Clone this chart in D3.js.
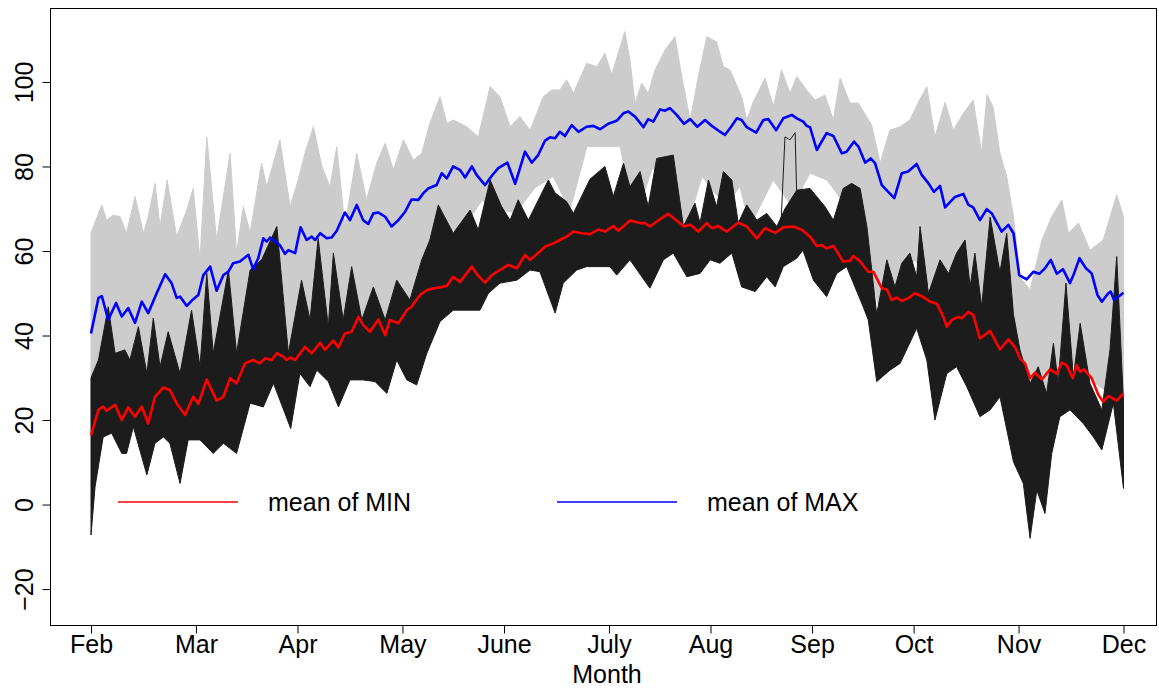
<!DOCTYPE html>
<html>
<head>
<meta charset="utf-8">
<script src="https://cdn.jsdelivr.net/npm/d3@7"></script>
<style>
  html, body { margin: 0; padding: 0; background: #fff; }
  svg { display: block; font-family: "Liberation Sans", Arial, sans-serif; }
</style>
</head>
<body>
<svg id="chart" width="1159" height="688"></svg>
<script>
// Daily temperatures (°F), day 0 = 1 Feb. Records are [day, value].
const months = ["Feb", "Mar", "Apr", "May", "June", "July", "Aug", "Sep", "Oct", "Nov", "Dec"];
const monthDays = [0, 31, 61, 92, 122, 153, 183, 213, 243, 274, 305];
const yTicks = [-20, 0, 20, 40, 60, 80, 100];

// Mean of the daily maxima
const meanMax = [[0,40.5],[2.2,48.9],[3.2,49.3],[5.1,43.7],[7.4,47.7],[9.1,44.5],[11.0,46.5],[13.0,43],[15.0,48],[16.9,45.3],[19.4,50],[21.9,54.5],[23.8,52.4],[25.3,48.9],[26.3,49.2],[28.3,47],[30.2,48.6],[31.7,49.6],[33.2,54.3],[35.2,56.3],[37.1,50.6],[39.1,54.3],[40.6,55.1],[42.0,57.1],[44.0,57.5],[46.5,59.1],[47.9,55.7],[49.4,58.3],[50.9,63],[51.9,62.2],[52.9,63.2],[55.8,61.4],[57.3,59.3],[58.3,60.2],[60.3,59.5],[61.9,65.6],[63.7,62.6],[65.2,63.4],[66.2,62.6],[67.7,64.2],[69.6,63],[71.1,63.2],[72.6,64.8],[75.0,69.1],[76.5,67.3],[78.5,70.9],[80.4,67.3],[81.9,66.4],[83.4,68.9],[84.9,69.1],[86.9,68.1],[88.8,65.8],[90.8,67.3],[92.8,69.3],[94.7,72.2],[96.7,72.1],[98.2,73.7],[99.6,74.8],[102.1,75.6],[103.6,78.4],[105.1,77.2],[107.0,80],[109.0,79.2],[110.5,77.4],[112.5,80],[113.9,78],[116.4,75.6],[118.4,77.8],[120.3,79.6],[123.0,80.9],[125.3,75.9],[128.2,83.5],[130.2,80.9],[132.1,82.7],[134.1,86.1],[135.6,86.9],[137.1,86.7],[138.5,88.2],[140.0,87.2],[142.0,89.8],[144.0,88.2],[146.4,89.4],[148.4,89.6],[150.4,88.8],[152.8,90.1],[155.3,90.8],[157.3,92.6],[158.7,93],[160.7,91.8],[163.2,89.3],[164.6,91.2],[166.1,90.6],[168.1,93.5],[169.6,93.2],[171.0,93.8],[173.0,92.2],[175.2,90.1],[177.0,91.2],[179.1,89.4],[181.4,91],[183.4,89.6],[185.3,88.5],[187.3,87.5],[189.0,89.3],[190.8,91.4],[192.2,91],[193.7,89.3],[196.5,88],[198.6,91],[200.1,91.2],[202.4,88.6],[204.5,91.4],[207.0,92.2],[208.5,91.4],[210.4,90.6],[211.4,89.6],[212.4,89.3],[214.4,83.9],[217.3,87.9],[219.3,87.2],[221.8,83.1],[223.2,83.5],[225.4,85.9],[226.7,84.7],[228.7,80.9],[230.3,81.9],[231.6,80.8],[233.6,75.6],[235.5,74],[237.3,72.5],[239.5,78.4],[241.4,78.8],[243.9,80.6],[245.4,78],[247.4,76],[249.0,74],[250.8,75.4],[252.3,70.3],[255.2,72.8],[257.7,73.5],[259.2,70.9],[260.6,70.3],[262.6,67.3],[264.6,69.9],[266.1,68.9],[269.0,64.6],[271.0,66.2],[272.5,64.2],[274.2,54.3],[276.4,53.3],[278.4,55.1],[280.1,54.6],[281.8,55.9],[283.5,57.9],[285.3,54.6],[287.1,55.7],[289.2,52.4],[290.4,54.7],[292.0,58.3],[293.9,55.9],[295.6,54.7],[297.3,49.6],[298.6,48],[300.5,50],[301.2,50.4],[302.2,48.4],[305,50.1]];

// Mean of the daily minima
const meanMin = [[0,16.4],[2.2,22.4],[3.6,23.2],[4.6,22.2],[7.1,23.6],[9.1,20],[11.0,23],[13.0,20.8],[15.0,23.2],[16.9,19.2],[18.9,25.5],[21.4,27.7],[23.3,27.1],[25.3,24],[27.8,21.2],[30.2,25.5],[31.7,23.8],[34.2,29.6],[37.1,24.6],[39.1,25.5],[41.1,29.9],[43.0,28.7],[45.5,33.4],[47.9,34.2],[49.9,33.4],[51.4,34.6],[53.4,34.2],[54.9,35.8],[56.8,35],[57.8,34.2],[58.8,34.8],[60.3,34.2],[63.2,37.3],[65.2,35.8],[67.7,38.3],[69.1,36.6],[71.6,38.8],[73.1,37.2],[75.0,40.5],[77.0,40.9],[79.0,44.4],[80.4,42.5],[82.4,40.9],[84.9,43.8],[86.9,40.1],[88.3,43.7],[90.8,42.9],[93.3,46],[94.7,46.8],[97.2,49.6],[99.6,50.9],[103.1,51.4],[105.1,51.7],[107.0,53.9],[109.0,52.7],[112.5,56.3],[114.4,54.1],[116.4,52.5],[118.4,54.3],[120.8,55.5],[123.3,56.7],[125.8,55.9],[128.2,59.1],[129.7,57.9],[132.1,59.5],[134.1,61],[136.6,61.8],[138.5,62.6],[140.5,63.4],[142.5,64.6],[145.0,64.2],[147.4,64],[149.9,65.1],[151.8,64.6],[154.3,65.9],[155.8,64.8],[159.2,67.2],[162.2,66.6],[163.7,66.6],[165.1,65.8],[168.1,67.5],[170.5,68.8],[172.5,67.5],[175.2,65.8],[177.0,66.2],[179.4,64.6],[181.9,66.6],[183.4,65.4],[185.3,65.9],[187.8,64.6],[191.2,66.7],[193.7,65.8],[196.7,63],[199.1,65.4],[202.1,64.3],[204.5,65.6],[207.5,65.8],[210.0,65],[212.4,63.4],[214.4,61.2],[215.9,61.4],[217.3,60.6],[219.3,61.2],[222.2,57.5],[224.2,57.7],[225.2,58.8],[227.2,57.5],[229.6,55.1],[231.1,55.1],[233.6,51.2],[235.1,50.9],[236.5,48.4],[238.0,49],[239.5,48.2],[241.4,48.8],[243.4,50],[245.4,49.3],[247.9,48],[249.8,47.6],[251.8,44.4],[252.8,42.1],[254.3,43.7],[256.2,44.4],[257.2,44.1],[259.2,45.6],[260.6,44.9],[262.6,39.3],[265.6,41.1],[268.5,36.7],[271.0,39.1],[273.0,37.2],[274.4,34.6],[275.9,33.4],[277.4,29.9],[278.9,31.2],[280.9,29.6],[283.3,32],[285.3,31],[286.8,33.6],[288.2,33],[290.0,29.9],[291.2,33],[292.2,31.4],[293.3,32],[295.6,29.9],[297.6,25.9],[299.0,24.3],[300.5,25.7],[303.0,24.6],[305,26.3]];

// Highest and lowest of the yearly maximum curves
const maxUpper = [[0,64.3],[3.2,70.9],[4.6,67.3],[6.6,68.5],[8.6,68.1],[10.5,64.2],[13.0,72.9],[15.5,64.2],[16.9,68.1],[18.9,76],[20.4,65.8],[22.5,76.8],[25.3,63.4],[28.3,69.7],[30.2,74.8],[32.2,57.9],[34.2,87],[37.1,62.6],[41.1,83.1],[43.0,59.5],[45.0,70.5],[47.0,64.3],[50.4,80.8],[51.9,75.2],[55.8,86.3],[58.8,70.5],[61.2,76.8],[63.2,83.1],[65.7,89.4],[68.2,80],[70.6,75.2],[72.6,84.7],[75.0,65.8],[78.5,83.1],[81.4,72.1],[84.4,80.8],[86.9,85.5],[89.3,79.2],[92.3,86.3],[95.2,81.5],[97.7,83.1],[100.1,90.2],[103.1,96.5],[105.1,90.2],[107.0,91],[111.0,89.4],[114.4,87],[117.9,98.9],[120.8,96.5],[123.8,89.4],[126.7,91.8],[129.7,88.6],[133.6,96.5],[136.1,98.1],[138.5,98.1],[140.5,100.5],[142.5,97.3],[146.4,104.4],[149.4,103.6],[151.8,106.8],[153.8,101.7],[157.7,111.9],[159.2,105.2],[160.7,95],[162.7,99.7],[164.6,97.3],[166.6,102.8],[169.6,107.6],[172.5,110.7],[174.5,101.3],[177.0,91],[179.4,101.3],[181.9,110.7],[184.8,109.5],[186.8,103.6],[188.8,102.8],[192.2,96.5],[193.7,91],[195.6,95.2],[199.1,100.9],[201.6,94.2],[204.0,102.8],[206.5,97.3],[208.5,101.3],[211.4,98.1],[213.9,95.7],[216.8,96.9],[219.3,91],[221.3,100.9],[224.2,95],[226.7,95],[230.6,89.8],[233.1,80.8],[236.0,88.6],[239.0,89.4],[241.9,91],[244.4,95.2],[246.9,98.9],[249.3,87],[252.3,95.2],[254.7,88.6],[257.7,92.6],[260.6,95.7],[263.1,83.1],[264.7,97],[266.5,94],[268.5,83.1],[270.5,77.6],[272.5,68.1],[274.4,53.9],[277.4,50.8],[280.9,62.6],[283.8,68.1],[286.8,72.1],[288.7,64.2],[291.7,66.6],[295.1,60.2],[299.0,62.6],[303.0,73.3],[305,68.1]];
const maxLower = [[0,20],[1.2,24],[5.6,28],[10.5,29],[16.5,27],[20.4,29],[25.3,27],[32.2,27],[37.1,29],[43.0,27],[47.0,34],[52.9,38],[57.3,32],[61.7,40],[67.7,40],[75.0,40],[80.1,41],[85.4,41],[89.3,42],[94.2,46],[98.7,56],[104.6,64],[110.5,66],[115.5,72],[119.3,70],[125.5,69],[131.2,75],[136.5,77.6],[141.5,69.7],[146.5,84.7],[156.3,84.7],[160.7,67.3],[166.0,80],[174.9,62.6],[180.5,77.6],[184.3,73.6],[187.9,71.3],[191.7,75.2],[194.7,65.8],[201.5,76.8],[207.1,70.5],[212.4,78.4],[217.4,76.8],[221.8,72],[226.6,70.5],[233.1,45],[237.5,52],[243.4,58],[248.7,50],[253.7,56],[258.5,52],[263.2,46],[265.6,46],[270.3,40.6],[276.8,14.5],[283.3,28.7],[289.8,33.4],[296.6,28.7],[305,24]];

// Highest and lowest of the yearly minimum curves
const minUpper = [[0,30],[2.2,34.2],[5.1,46.8],[7.1,35.8],[10.0,36.6],[11.5,34.2],[14.0,42.1],[16.5,31],[18.4,44.1],[20.4,32.6],[22.8,40.9],[26.3,31],[29.7,46],[32.2,32.6],[34.2,54.7],[36.1,35.8],[40.6,55.5],[43.0,35.8],[47.0,55.5],[50.4,57.9],[54.9,65.8],[58.3,35.8],[62.2,53.1],[64.7,43.7],[67.1,63],[70.1,42.1],[71.6,59.5],[74.5,43.7],[77.0,56.3],[80.0,43.7],[83.4,51.5],[86.9,43.7],[90.3,53.1],[94.2,48.4],[97.7,57.9],[100.1,62.6],[102.6,70.9],[107.0,64.2],[112.0,69.7],[114.4,65],[117.9,76.8],[121.3,70.5],[123.8,67.3],[126.2,72.1],[129.2,67.3],[135.1,76.8],[137.1,73.7],[140.5,71.7],[142.5,68.9],[147.4,77],[151.8,80],[154.3,72.9],[157.3,80.8],[159.2,75.2],[162.2,78.8],[164.6,70.5],[167.1,81.9],[172.0,82.7],[175.0,65.8],[178.4,71.3],[179.9,66.6],[182.4,76.8],[184.8,70.5],[186.8,78.8],[189.3,76.8],[191.2,66.6],[193.7,70.9],[196.7,67.3],[199.6,68.9],[202.6,65.8],[205.0,70],[208.5,74.4],[212.4,74.8],[216.8,70.5],[219.3,67.3],[222.2,74.8],[224.7,76],[227.2,74.8],[229.2,65.8],[232.1,45],[235.1,57.9],[237.5,51.5],[239.5,57.1],[241.9,59.5],[243.9,53.9],[244.9,65.8],[247.4,50],[250.8,57.9],[253.3,54.7],[255.7,59.5],[258.2,62.6],[259.7,51.5],[261.1,59.5],[263.1,46.8],[265.6,68],[268.5,55],[270.5,64.2],[272.5,45],[274.4,36.6],[277.4,28.7],[279.8,32.6],[282.3,26.3],[284.3,38.2],[285.7,28.7],[288.0,52.4],[290.2,30.2],[292.2,42.9],[295.1,28.7],[298.6,22.4],[301.0,36.6],[303.0,58.7],[305,24]];
const minLower = [[0,-7.2],[1.2,4.2],[3.6,16],[6.1,16.9],[9.1,12.1],[10.5,12.1],[12.5,18.4],[16.5,7],[18.9,14.5],[21.4,16],[23.3,14.5],[26.3,5],[28.7,15.3],[32.2,15.3],[36.1,12.1],[39.1,14.5],[43.0,12.1],[47.0,24],[50.9,23.1],[53.9,28.7],[59.0,18],[61.7,31],[64.7,27.9],[66.7,31.8],[70.1,29.1],[73.1,23.1],[76.5,29.5],[80.4,29.5],[83.9,29.1],[87.4,26.3],[90.3,34.2],[93.3,29.5],[96.2,28.3],[99.2,35.8],[103.1,43.3],[107.0,46],[114.9,46],[117.4,50],[120.8,52.4],[125.8,53.1],[129.7,55.5],[132.6,55.1],[137.1,45.3],[139.5,52.4],[143.5,55.5],[146.4,56.3],[153.3,56.3],[155.3,54.3],[159.2,57.9],[165.1,51.2],[169.1,57.9],[172.0,59.5],[176.0,53.9],[179.9,54.7],[182.9,57.9],[185.8,57.1],[189.3,59.5],[192.2,51.5],[196.2,50.4],[199.6,53.9],[202.1,51.5],[204.5,56.3],[208.5,58.3],[210.3,60.2],[213.4,53.1],[217.3,49.2],[220.3,54.7],[223.2,56.3],[228.1,46.8],[229.6,43.7],[232.1,29.1],[236.0,31.8],[239.0,33.4],[243.9,41.7],[246.9,34.2],[249.3,20],[252.8,31],[255.7,32.6],[258.7,27.9],[262.6,20.8],[265.6,22.4],[268.5,25.5],[272.5,10.1],[275.4,5],[277.4,-8],[279.4,3.4],[281.8,-2.1],[283.8,12.1],[286.2,20.8],[289.2,22.4],[293.1,19.2],[296.1,16],[298.6,12.9],[302.0,24],[305,3.8]];

// One year's minimum that jumps well above the rest in late August
const minOutlier = [[203.8,66],[205.0,87],[206.5,86.3],[208.0,88],[208.5,72]];

const legendItems = [
  { label: "mean of MIN", color: "#ff0000" },
  { label: "mean of MAX", color: "#0000ff" }
];

const svg = d3.select("#chart");
const plot = { left: 50, right: 1157, top: 8, bottom: 625 };

const x = d3.scaleLinear().domain([0, 305]).range([91, 1123.5]);
const y = d3.scaleLinear().domain([-28.5, 117.5]).range([plot.bottom, plot.top]);

const line = d3.line().x(d => x(d[0])).y(d => y(d[1]));
const band = (upper, lower) => line(upper.concat(lower.slice().reverse())) + "Z";

svg.append("defs").append("clipPath").attr("id", "plotClip")
  .append("rect")
  .attr("x", plot.left).attr("y", plot.top)
  .attr("width", plot.right - plot.left).attr("height", plot.bottom - plot.top);

const g = svg.append("g").attr("clip-path", "url(#plotClip)");

// Spread of the yearly maximum curves
g.append("path")
  .attr("d", band(maxUpper, maxLower))
  .attr("fill", "#cccccc")
  .attr("stroke", "#cccccc")
  .attr("stroke-width", 1)
  .attr("stroke-linejoin", "round");

// Spread of the yearly minimum curves
g.append("path")
  .attr("d", band(minUpper, minLower))
  .attr("fill", "#1c1c1c")
  .attr("stroke", "#1c1c1c")
  .attr("stroke-width", 1)
  .attr("stroke-linejoin", "round");

g.append("path")
  .attr("d", line(minOutlier))
  .attr("fill", "none")
  .attr("stroke", "#1c1c1c")
  .attr("stroke-width", 1);

// Mean curves
g.append("path")
  .attr("d", line(meanMin))
  .attr("fill", "none")
  .attr("stroke", "#ff0000")
  .attr("stroke-width", 2.6)
  .attr("stroke-linejoin", "round");

g.append("path")
  .attr("d", line(meanMax))
  .attr("fill", "none")
  .attr("stroke", "#0000ff")
  .attr("stroke-width", 2.6)
  .attr("stroke-linejoin", "round");

// Frame
svg.append("rect")
  .attr("x", plot.left + 0.5).attr("y", plot.top + 0.5)
  .attr("width", plot.right - plot.left - 1).attr("height", plot.bottom - plot.top)
  .attr("fill", "none").attr("stroke", "#000").attr("stroke-width", 1);

// Axes
const xAxis = d3.axisBottom(x)
  .tickValues(monthDays)
  .tickFormat((d, i) => months[i])
  .tickSize(8)
  .tickPadding(3);

const xg = svg.append("g")
  .attr("transform", `translate(0,${plot.bottom + 0.5})`)
  .call(xAxis);
xg.select(".domain").attr("d", `M${x(0)},0H${x(305)}`).attr("stroke", "#000");
xg.selectAll(".tick line").attr("stroke", "#000");
xg.selectAll(".tick text")
  .attr("font-size", 25)
  .attr("font-family", "Liberation Sans, Arial, sans-serif")
  .attr("fill", "#000")
  .attr("dy", null)
  .attr("y", 27);

const yAxis = d3.axisLeft(y)
  .tickValues(yTicks)
  .tickFormat(d => d < 0 ? "\u2212" + Math.abs(d) : d)
  .tickSize(8)
  .tickPadding(0);

const yg = svg.append("g")
  .attr("transform", `translate(${plot.left + 0.5},0)`)
  .call(yAxis);
yg.select(".domain").attr("d", `M0,${y(-20)}V${y(100)}`).attr("stroke", "#000");
yg.selectAll(".tick line").attr("stroke", "#000");
yg.selectAll(".tick text")
  .attr("font-size", 25)
  .attr("font-family", "Liberation Sans, Arial, sans-serif")
  .attr("fill", "#000")
  .attr("text-anchor", "middle")
  .attr("x", null).attr("dy", null)
  .attr("transform", "translate(-17.5,0) rotate(-90)");

// Axis title
svg.append("text")
  .attr("x", 607).attr("y", 683)
  .attr("text-anchor", "middle")
  .attr("font-size", 25)
  .text("Month");

// Legend
const legend = svg.append("g").attr("transform", "translate(118,502)");
const lg = legend.selectAll("g").data(legendItems).join("g")
  .attr("transform", (d, i) => `translate(${i * 439},0)`);
lg.append("line")
  .attr("x1", 0).attr("x2", 120).attr("y1", 0).attr("y2", 0)
  .attr("stroke", d => d.color).attr("stroke-width", 1.6);
lg.append("text")
  .attr("x", 150).attr("y", 9)
  .attr("font-size", 25)
  .text(d => d.label);
</script>
</body>
</html>
